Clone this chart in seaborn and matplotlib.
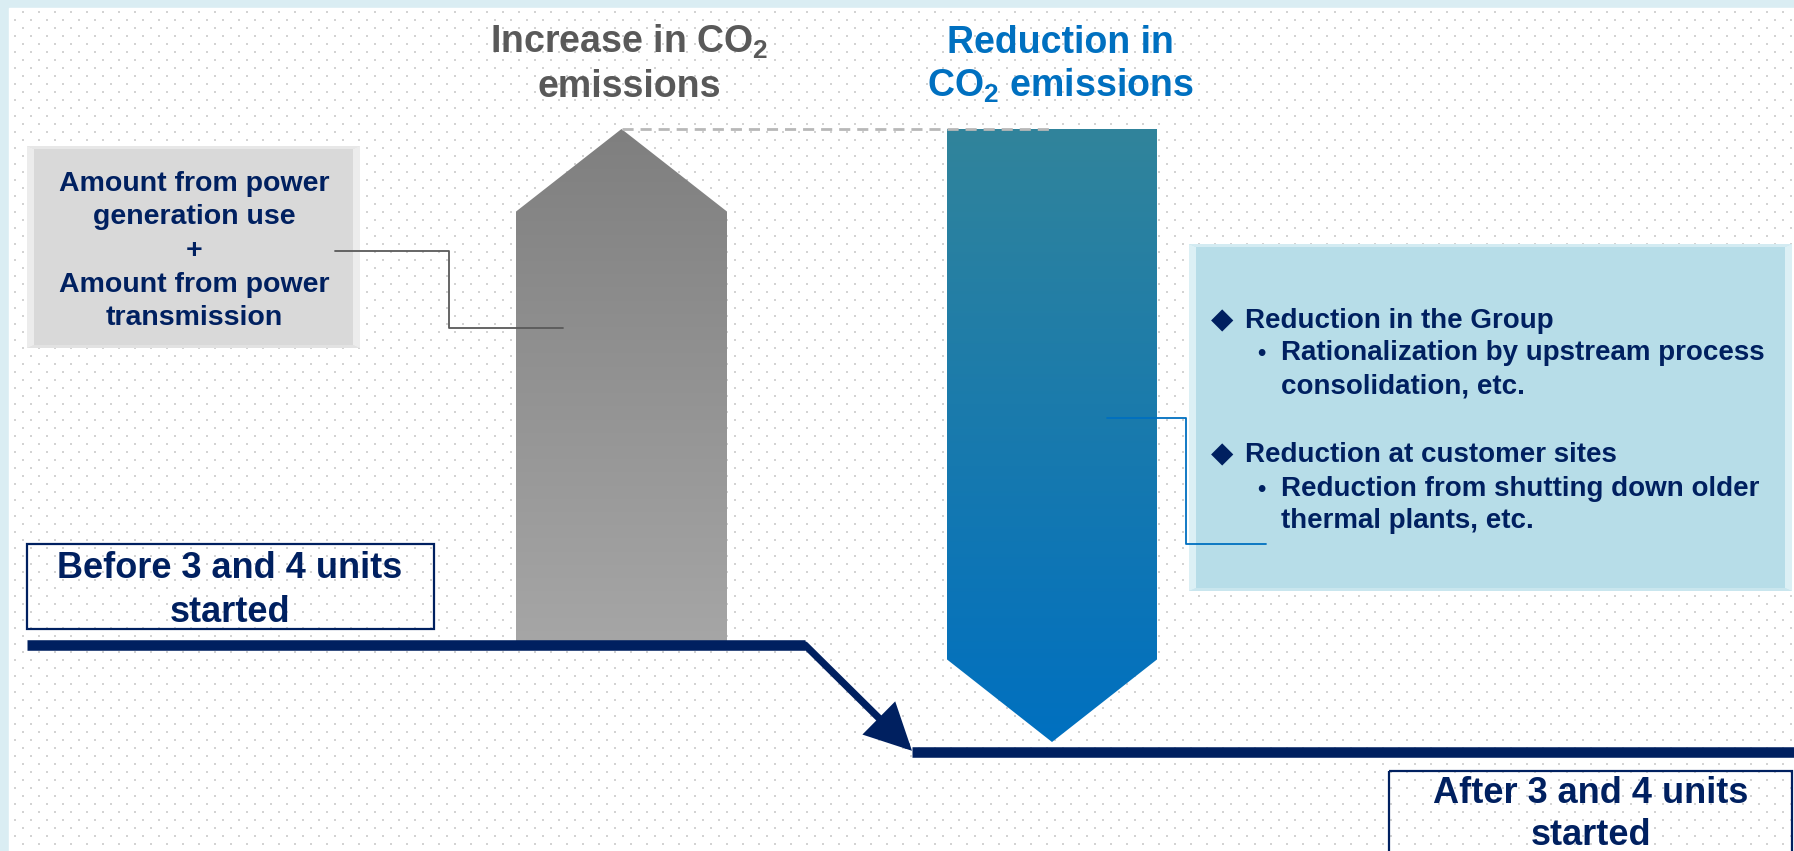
import numpy as np
import pandas as pd
import matplotlib
matplotlib.use("Agg")
import matplotlib.pyplot as plt
import seaborn as sns
from matplotlib.patches import Polygon, Rectangle
from matplotlib.colors import LinearSegmentedColormap
from matplotlib.patches import ArrowStyle

# ------------------------------------------------------------------ data
stage_labels = ["Before 3 and 4 units", "started", "After 3 and 4 units", "started"]
stage_levels = [100.0, 79.3]            # emission level before / after
change_titles = [["Increase in CO$_2$", "emissions"], ["Reduction in", "CO$_2$ emissions"]]
change_values = [100.0, -118.8]         # increase, reduction (same index units)
increase_lines = ["Amount from power", "generation use", "+", "Amount from power", "transmission"]
reduction_heads = ["Reduction in the Group", "Reduction at customer sites"]
reduction_subs = [["Rationalization by upstream process", "consolidation, etc."],
                  ["Reduction from shutting down older", "thermal plants, etc."]]

# ------------------------------------------------------------------ style
sns.set_theme(style="white")
plt.rcParams["font.family"] = ["Liberation Sans", "DejaVu Sans"]
plt.rcParams["font.weight"] = "bold"
plt.rcParams["mathtext.fontset"] = "custom"
plt.rcParams["mathtext.rm"] = "Liberation Sans:bold"
plt.rcParams["mathtext.bf"] = "Liberation Sans:bold"
plt.rcParams["mathtext.it"] = "Liberation Sans:bold"
plt.rcParams["mathtext.default"] = "rm"

NAVY = "#002060"
W, H = 1794, 851
fig = plt.figure(figsize=(W / 100, H / 100), dpi=100)

# background axis (pixel coordinates)
bg = fig.add_axes([0, 0, 1, 1], zorder=0)
bg.set_xlim(0, W); bg.set_ylim(H, 0); bg.axis("off")
bg.add_patch(Rectangle((0, 0), W, H, color="#DAEDF3", zorder=0))
bg.add_patch(Rectangle((9, 8), W, H, color="white", zorder=1))
dx, dy = [], []
for i, yy in enumerate(np.arange(12, H, 8)):
    start = 23 if i % 2 == 0 else 15
    xs = np.arange(start, W, 16)
    dx.extend(xs); dy.extend([yy] * len(xs))
bg.scatter(dx, dy, s=2.2, marker="s", color="#D3D3D3", linewidths=0, zorder=2)

# data axis: x = layout position, y = emission index
base_px, px_per_unit = 645.0, 5.16
base = stage_levels[0]
ax = fig.add_axes([0, 0, 1, 1], zorder=1)
ax.patch.set_alpha(0)
ax.axis("off")
ylo = base - (H - base_px) / px_per_unit
yhi = base + base_px / px_per_unit


def grad_poly(pts, c_top, c_bot, y_top, y_bot):
    poly = Polygon(pts, closed=True, facecolor="none", edgecolor="none")
    ax.add_patch(poly)
    cmap = LinearSegmentedColormap.from_list("g", [c_top, c_bot])
    xs = [p[0] for p in pts]
    grad = np.linspace(0, 1, 256).reshape(-1, 1)
    im = ax.imshow(grad, cmap=cmap, aspect="auto",
                   extent=(min(xs), max(xs), y_bot, y_top), origin="upper",
                   interpolation="bilinear", zorder=2)
    im.set_clip_path(poly)


head = 16.0
peak = base + change_values[0]
after_tip = peak + change_values[1]
gx0, gx1 = 516, 727
bx0, bx1 = 947, 1157
gmid = (gx0 + gx1) / 2
bmid = (bx0 + bx1) / 2
grad_poly([(gx0, base), (gx0, peak - head), (gmid, peak), (gx1, peak - head), (gx1, base)],
          "#7F7F7F", "#A6A6A6", peak, base)
grad_poly([(bx0, peak), (bx1, peak), (bx1, after_tip + head), (bmid, after_tip), (bx0, after_tip + head)],
          "#31849B", "#0070C0", peak, after_tip)

# dashed reference line between the two change bars
ax.plot([gmid, 1049], [peak, peak], color="#B8B8B8", lw=2.0, ls=(0, (4, 2.5)), zorder=3)

# level lines
lev = pd.DataFrame({"x": [27, 805, 912, W], "level": [stage_levels[0], stage_levels[0],
                                                      stage_levels[1], stage_levels[1]],
                    "stage": ["before", "before", "after", "after"]})
sns.lineplot(data=lev, x="x", y="level", units="stage", estimator=None, color=NAVY,
             lw=7.6, ax=ax, zorder=4, solid_capstyle="butt", legend=False)
ax.annotate("", xy=(912, stage_levels[1] + 0.2), xytext=(805, stage_levels[0]),
            arrowprops=dict(arrowstyle=ArrowStyle("-|>", head_length=1.2, head_width=0.6),
                            mutation_scale=21, lw=5.2, color=NAVY, shrinkA=0, shrinkB=0,
                            joinstyle="miter"), zorder=4)
ax.set_xlim(0, W)
ax.set_ylim(ylo, yhi)
ax.axis("off")

# overlay axis for boxes and text (pixel coordinates)
ov = fig.add_axes([0, 0, 1, 1], zorder=2)
ov.patch.set_alpha(0)
ov.set_xlim(0, W); ov.set_ylim(H, 0); ov.axis("off")


def bevel_box(x0, y0, x1, y1, face, light, bw=7, bt=3):
    ov.add_patch(Rectangle((x0, y0), x1 - x0, y1 - y0, facecolor=face, edgecolor="none", zorder=1))
    ov.add_patch(Polygon([(x0, y0), (x0 + bw, y0 + bt), (x0 + bw, y1 - bt), (x0, y1)],
                         facecolor=light, edgecolor="none", alpha=0.8, zorder=1))
    ov.add_patch(Polygon([(x1, y0), (x1 - bw, y0 + bt), (x1 - bw, y1 - bt), (x1, y1)],
                         facecolor=light, edgecolor="none", alpha=0.8, zorder=1))
    ov.add_patch(Polygon([(x0, y0), (x1, y0), (x1 - bw, y0 + bt), (x0 + bw, y0 + bt)],
                         facecolor=light, edgecolor="none", alpha=0.6, zorder=1))
    ov.add_patch(Polygon([(x0, y1), (x1, y1), (x1 - bw, y1 - bt), (x0 + bw, y1 - bt)],
                         facecolor=light, edgecolor="none", alpha=0.4, zorder=1))


# left gray box
bevel_box(27, 146, 360, 348, "#D9D9D9", "#F2F2F2")
for txt, yb in zip(increase_lines, [191, 224.5, 258, 291.5, 325]):
    ov.text(194, yb, txt, ha="center", va="baseline", fontsize=20.5, color=NAVY,
            fontweight="bold", zorder=3)
ov.plot([335, 449, 449, 563], [251, 251, 328, 328], color="#595959", lw=1.3, zorder=3)

# right blue box
bevel_box(1189, 244, 1792, 591, "#B7DDE8", "#E6F5F9")
ov.plot([1107, 1186, 1186, 1266], [418, 418, 544, 544], color="#0070C0", lw=1.3, zorder=3)
for k, (hd, subs) in enumerate(zip(reduction_heads, reduction_subs)):
    yb = [328, 462][k]
    ov.text(1222, yb, "\u25C6", ha="center", va="baseline", fontsize=21, color=NAVY,
            family=["DejaVu Sans"], zorder=3)
    ov.text(1245, yb, hd, ha="left", va="baseline", fontsize=20, color=NAVY,
            fontweight="bold", zorder=3)
    ys = [[360, 394], [496, 528]][k]
    ov.text(1261, ys[0], "\u2022", ha="center", va="baseline", fontsize=17, color=NAVY, zorder=3)
    for s, ysub in zip(subs, ys):
        ov.text(1281, ysub, s, ha="left", va="baseline", fontsize=20, color=NAVY,
                fontweight="bold", zorder=3)

# titles
for ln, yb in zip(change_titles[0], [53, 97]):
    ov.text(629, yb, ln, ha="center", va="baseline", fontsize=27, color="#595959",
            fontweight="bold", zorder=3)
for ln, yb in zip(change_titles[1], [53, 97]):
    ov.text(1060, yb, ln, ha="center", va="baseline", fontsize=27, color="#0070C0",
            fontweight="bold", zorder=3)

# stage boxes
ov.add_patch(Rectangle((27, 544), 434 - 27, 629 - 544, facecolor="none", edgecolor=NAVY, lw=1.6, zorder=2))
ov.text(230, 578, stage_labels[0], ha="center", va="baseline", fontsize=26, color=NAVY, zorder=3)
ov.text(230, 622, stage_labels[1], ha="center", va="baseline", fontsize=26, color=NAVY, zorder=3)
ov.add_patch(Rectangle((1389, 771), 1792 - 1389, 200, facecolor="none", edgecolor=NAVY, lw=1.6, zorder=2))
ov.text(1591, 803, stage_labels[2], ha="center", va="baseline", fontsize=26, color=NAVY, zorder=3)
ov.text(1591, 845, stage_labels[3], ha="center", va="baseline", fontsize=26, color=NAVY, zorder=3)

fig.savefig("out.png", dpi=100)
